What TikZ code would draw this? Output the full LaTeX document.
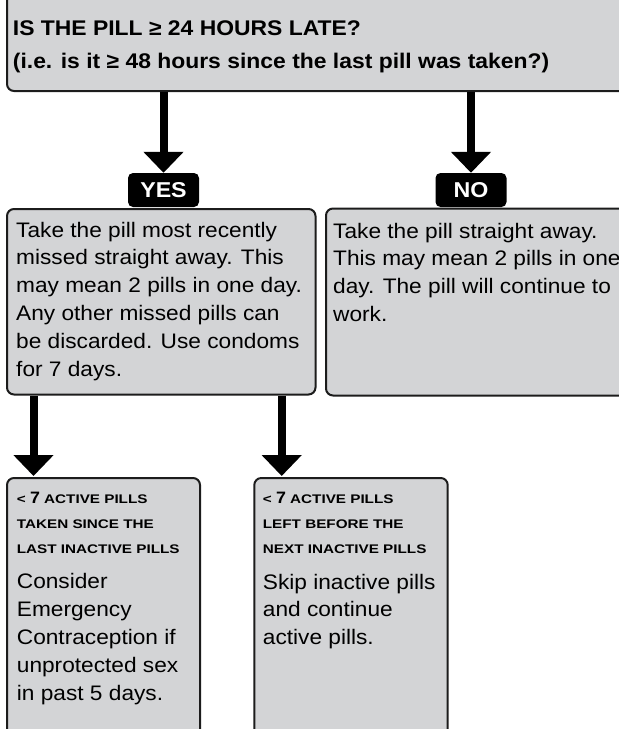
\documentclass[tikz,border=0pt]{standalone}
\usepackage{fontspec}
\setmainfont{Liberation Sans}[FakeStretch=1.08]
\newfontfamily\capsfont{Liberation Sans}[FakeStretch=1.22]
\usetikzlibrary{arrows.meta,positioning}
\definecolor{panelgray}{RGB}{211,212,214}
\definecolor{edgegray}{RGB}{28,28,28}
\newcommand{\fewpills}{< {\normalfont\bfseries\fontsize{16.5}{25}\selectfont 7} ACTIVE PILLS}
\begin{document}
\begin{tikzpicture}[x=1pt,y=-1pt,
  panel/.style={draw=edgegray, line width=2pt, fill=panelgray, rounded corners=7pt,
    anchor=north west, inner sep=0pt},
  answer/.style={fill=black, text=white, rounded corners=5pt, inner sep=0pt,
    minimum width=71pt, minimum height=34pt, font=\bfseries\fontsize{21.5}{21.5}\selectfont},
  body/.style={anchor=base west, inner sep=0pt, align=left,
    font=\fontsize{21}{27.8}\selectfont},
  heading/.style={body, font=\capsfont\bfseries\fontsize{12.5}{25}\selectfont},
  flow/.style={line width=8pt, -{Triangle[length=21pt,width=39pt]}}]
  \useasboundingbox (0,0) rectangle (619,729);
  \clip (0,0) rectangle (619,729);
  % boxes
  \node[panel, minimum width=660pt, minimum height=120pt] (question) at (6,-30) {};
  \node[panel, minimum width=308.5pt, minimum height=185.5pt] (yesPanel) at (6,208) {};
  \node[panel, minimum width=320pt, minimum height=187pt] (noPanel) at (325,207.5) {};
  \node[panel, minimum width=193pt, minimum height=300pt] (sinceLast) at (6,477) {};
  \node[panel, minimum width=193.4pt, minimum height=300pt] (beforeNext) at (253.3,477) {};
  \node[answer] (yes) at (163.5,190) {YES};
  \node[answer] (no) at (471,190) {NO};
  % texts (anchored at the baseline of their last line)
  \node[body, font=\bfseries\fontsize{21.2}{33}\selectfont] (questionText) at (12.7,68)
    {IS THE PILL ≥ 24 HOURS LATE?\\(i.e. is it ≥ 48 hours since the last pill was taken?)};
  \node[body] (yesText) at (16,376) {Take the pill most recently\\missed straight away. This\\
    may mean 2 pills in one day.\\Any other missed pills can\\be discarded. Use condoms\\for 7 days.};
  \node[body] (noText) at (333,321.4) {Take the pill straight away.\\This may mean 2 pills in one\\
    day. The pill will continue to\\work.};
  \node[heading] (sinceLastHead) at (16.7,553) {\fewpills\\TAKEN SINCE THE\\LAST INACTIVE PILLS};
  \node[body] (sinceLastText) at (16.7,700) {Consider\\Emergency\\Contraception if\\
    unprotected sex\\in past 5 days.};
  \node[heading] (beforeNextHead) at (262.7,553) {\fewpills\\LEFT BEFORE THE\\NEXT INACTIVE PILLS};
  \node[body] (beforeNextText) at (262.7,644.6) {Skip inactive pills\\and continue\\active pills.};
  % arrows
  \coordinate (dropA) at ([xshift=27.5pt]sinceLast.north west);
  \coordinate (dropB) at ([xshift=28.4pt]beforeNext.north west);
  \draw[flow] (yes.north |- question.south) -- (yes.north);
  \draw[flow] (no.north |- question.south) -- (no.north);
  \draw[flow] (dropA |- yesPanel.south) -- ([yshift=1pt]dropA);
  \draw[flow] (dropB |- yesPanel.south) -- ([yshift=1pt]dropB);
\end{tikzpicture}
\end{document}
